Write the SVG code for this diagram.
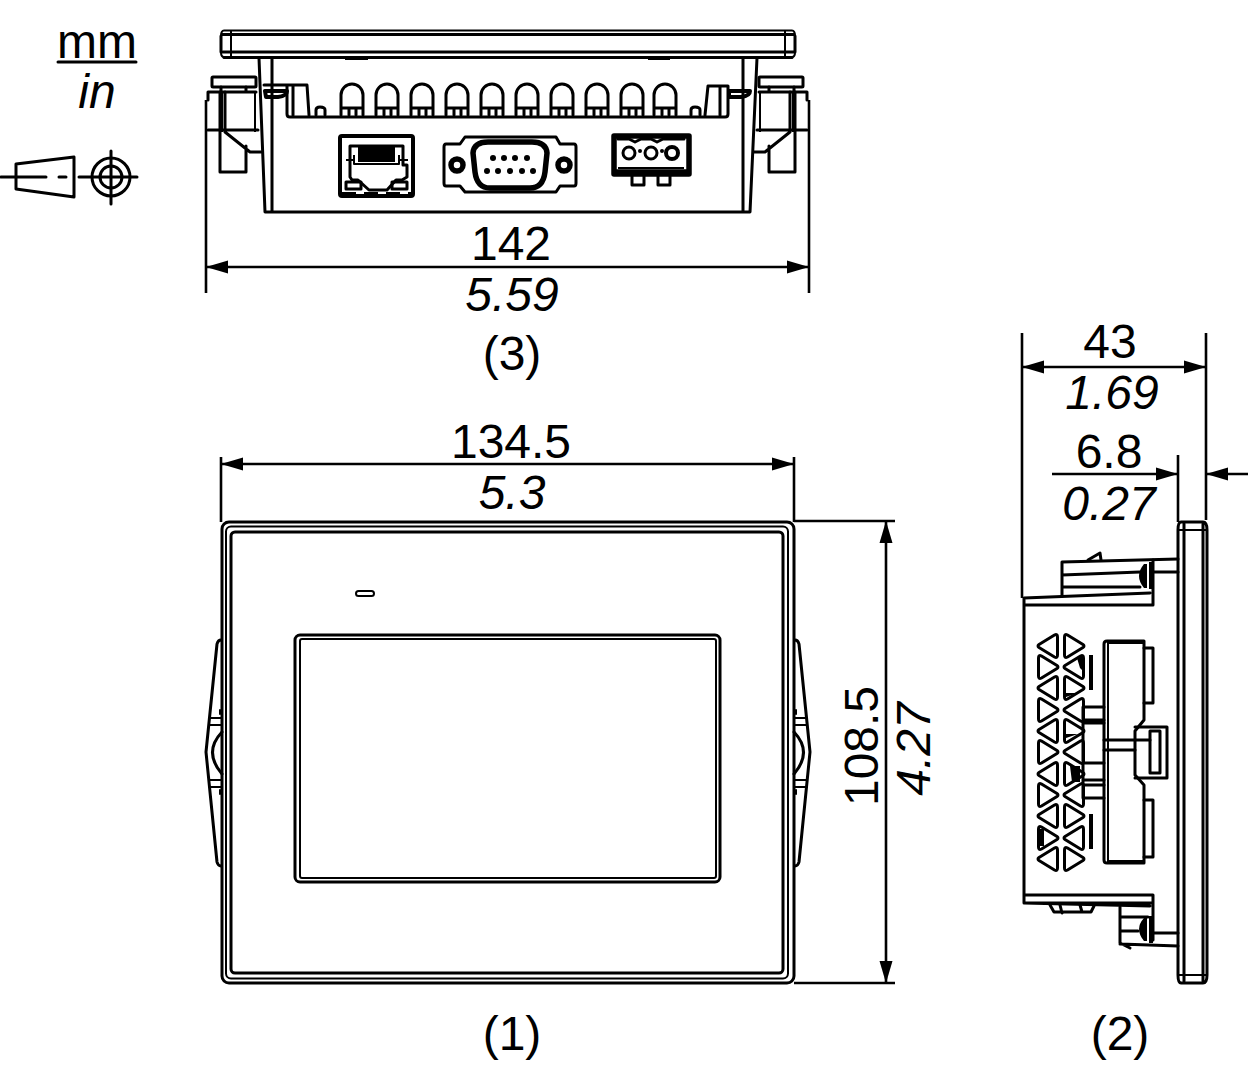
<svg xmlns="http://www.w3.org/2000/svg" width="1248" height="1080" viewBox="0 0 1248 1080">
<style>
.l{fill:none;stroke:#000;stroke-width:3;stroke-linejoin:round;stroke-linecap:round}
.n{fill:none;stroke:#000;stroke-width:2;stroke-linejoin:round}
.h{fill:none;stroke:#000;stroke-width:4;stroke-linejoin:round}
.x{fill:none;stroke:#000;stroke-width:5.500;stroke-linejoin:round}
.f{fill:#000;stroke:none}
.d{fill:none;stroke:#000;stroke-width:2.6}
.t{font-family:"Liberation Sans",Arial,sans-serif;font-size:48px;fill:#000;text-anchor:middle}
.i{font-style:italic}
</style>
<defs>
<marker id="arrow" markerUnits="userSpaceOnUse" markerWidth="24" markerHeight="14" refX="22" refY="7" orient="auto-start-reverse"><path d="M0 0.5L22 7L0 13.5Z" fill="#000"/></marker>
<g id="fin"><path class="l" d="M-11 31V11a11 11 0 0 1 22 0V31M-11 24H11M-3 24V31M4 24V31"/></g>
<path id="tl" class="l" d="M-9 -1.500L6.500 -11Q9.500 -12.500 9.500 -9V9Q9.500 12.500 6.500 11L-9 1.500Q-11 0 -9 -1.500Z"/>
<path id="tr" class="l" d="M9 -1.500L-6.500 -11Q-9.500 -12.500 -9.500 -9V9Q-9.500 12.500 -6.500 11L9 1.500Q11 0 9 -1.500Z"/>
<g id="clip-top">
<rect class="l" x="212" y="77" width="44" height="10" rx="1"/>
<path class="l" d="M221 87V92M246 87V92M208 100V92H256"/>
<path class="l" d="M208 130H258M220 92V172H246V146M225 92V132L250 152H261"/>
<path class="n" d="M255 92V132M222 92V132"/>
</g>
<g id="clip-front">
<path class="l" d="M221 640Q218 640 217 644L206 752L217 862Q218 866 221 866"/>
<path class="x" d="M219 712H221M219 792H221"/>
<path class="n" d="M210 718H222M209 725H222M209 780H222M210 787H222"/>
<path class="l" d="M222 732Q203 752 222 774"/>
</g>
</defs>

<g id="legend">
<text class="t" x="97" y="58">mm</text>
<path class="l" d="M58 62H136"/>
<text class="t i" x="97" y="108">in</text>
<path class="l" d="M16 164L74 157V197L16 189Z"/>
<path class="l" d="M1 177H46M59 177H66M79 177H137M111 151V204"/>
<circle class="l" cx="111" cy="177" r="19"/>
<circle class="l" cx="111" cy="177" r="11"/>
</g>

<g id="view-top">
<path class="n" d="M224 30.500H792Q795 30.500 795 36V52Q795 57 792 57H224Q221 57 221 52V36Q221 30.500 224 30.500Z"/>
<path class="l" d="M222 34.500H794M223 52H794M224 57.500H792M221 36V52M795 36V52"/>
<path class="n" d="M231 31V57M785 31V57"/>
<path class="l" d="M259 58L265 212H750L757 58M272 58V212M743 58V212"/>
<path class="n" d="M345 59H368M648 59H670"/>
<path class="l" d="M264 85H307L309 115M293 85V115M287 85V114Q287 117 290 117H725Q728 117 728 114V86H708L705 115M720 86V115"/>
<path class="l" d="M316 115V110Q316 107 320 107Q325 107 325 110V115M691 115V110Q691 107 695 107Q700 107 700 110V115"/>
<path class="h" d="M265 91H287Q287 96 278 97H266ZM729 91H750Q750 96 741 97H729Z"/>
<use href="#fin" x="352" y="84"/><use href="#fin" x="387" y="84"/><use href="#fin" x="422" y="84"/><use href="#fin" x="457" y="84"/><use href="#fin" x="492" y="84"/><use href="#fin" x="527" y="84"/><use href="#fin" x="562" y="84"/><use href="#fin" x="597" y="84"/><use href="#fin" x="632" y="84"/><use href="#fin" x="665" y="84"/>
<use href="#clip-top"/>
<use href="#clip-top" transform="translate(1015 0) scale(-1 1)"/>
<g id="rj45">
<rect class="h" x="340" y="136" width="73" height="60" rx="2"/>
<path class="l" d="M350 146H403V165H407V177L402 180H396L387 190H369L358 180H352L350 177V146Z"/>
<path class="f" d="M358 147H395V162H358Z"/>
<path class="n" d="M354 155V164H399V155M346 160H354M399 160H408"/>
<rect class="l" x="346" y="182" width="15" height="7"/>
<rect class="l" x="392" y="182" width="15" height="7"/>
<path class="n" d="M342 193H412" stroke-dasharray="14 8"/>
</g>
<g id="db9">
<path class="l" d="M446 144H460L465 137H556L560 144H574Q576 144 576 147V183Q576 186 574 186H560L556 192H465L460 186H446Q444 186 444 183V147Q444 144 446 144Z"/>
<circle class="x" cx="457" cy="165" r="6"/>
<circle class="x" cx="564" cy="165" r="6"/>
<path class="x" d="M488 142H532Q546 142 547 153L545 172Q543 188 530 188H490Q477 188 475 172L473 153Q474 142 488 142Z"/>
<g class="f"><circle cx="493" cy="158" r="3"/><circle cx="504" cy="158" r="3"/><circle cx="515" cy="158" r="3"/><circle cx="527" cy="158" r="3"/><circle cx="487" cy="171" r="3"/><circle cx="498" cy="171" r="3"/><circle cx="510" cy="171" r="3"/><circle cx="522" cy="171" r="3"/><circle cx="533" cy="171" r="3"/></g>
</g>
<g id="terminal">
<path class="x" d="M614 136H689V174H614Z"/>
<path class="l" d="M618 139H629L635 142L641 139H651L657 142L663 139H684"/>
<path class="x" d="M614 172H689"/>
<path class="n" d="M618 168H684"/>
<circle class="l" cx="629" cy="153" r="6"/><circle class="l" cx="651" cy="153" r="6"/><circle class="h" cx="672" cy="153" r="6"/>
<circle class="f" cx="640" cy="151" r="2"/><circle class="f" cx="662" cy="151" r="2"/>
<path class="l" d="M632 176V185H644V176M658 176V185H670V176"/>
</g>
</g>

<g id="view-front">
<rect class="l" x="222" y="522" width="572" height="461" rx="7"/>
<rect class="n" x="226" y="526.500" width="562" height="452" rx="5"/>
<rect class="l" x="231" y="532" width="552" height="441" rx="4"/>
<rect class="l" x="295" y="635" width="425" height="247" rx="5"/>
<rect class="n" x="300" y="639" width="416" height="239" rx="2"/>
<rect class="n" x="356" y="591" width="18" height="5" rx="2.500"/>
<use href="#clip-front"/>
<use href="#clip-front" transform="translate(1016 0) scale(-1 1)"/>
</g>

<g id="view-side">
<path class="l" d="M1178 530V975Q1178 983 1181 983H1203Q1207 983 1207 975V530Q1207 522 1203 522H1181Q1178 522 1178 530ZM1184 524V981M1203 524V981"/>
<path class="n" d="M1178 530H1207M1178 975H1207"/>
<path class="l" d="M1024 598L1150 593M1024 605H1153V560M1024 598V903H1153V895H1024M1153 895V940M1024 903L1150 906"/>
<path class="l" d="M1062 596V562L1178 559M1153 572H1178M1062 575L1140 572M1062 587L1140 587"/>
<path class="l" d="M1088 560L1100 553L1101 560"/>
<path class="f" d="M1144 564H1147V588H1144Q1134 576 1144 564Z"/>
<path class="h" d="M1151 562V589"/>
<path class="l" d="M1120 907V943L1130 948M1120 944L1178 946M1153 933H1178M1120 931H1138M1120 917H1148"/>
<path class="f" d="M1144 918H1147V941H1144Q1134 929 1144 918Z"/>
<path class="h" d="M1151 916V943"/>
<path class="l" d="M1050 905L1054 912H1091L1094 906M1060 905L1062 913M1080 905L1082 912"/>
<use href="#tl" x="1048" y="646"/><use href="#tr" x="1074" y="646"/>
<use href="#tr" x="1048" y="667"/><use href="#tl" x="1074" y="667"/>
<use href="#tl" x="1048" y="688"/><use href="#tr" x="1074" y="688"/>
<use href="#tr" x="1048" y="710"/><use href="#tl" x="1074" y="710"/>
<use href="#tl" x="1048" y="731"/><use href="#tr" x="1074" y="731"/>
<use href="#tr" x="1048" y="752"/><use href="#tl" x="1074" y="752"/>
<use href="#tl" x="1048" y="774"/><use href="#tr" x="1074" y="774"/>
<use href="#tr" x="1048" y="795"/><use href="#tl" x="1074" y="795"/>
<use href="#tl" x="1048" y="816"/><use href="#tr" x="1074" y="816"/>
<use href="#tr" x="1048" y="838"/><use href="#tl" x="1074" y="838"/>
<use href="#tl" x="1048" y="859"/><use href="#tr" x="1074" y="859"/>
<path class="f" d="M1077 658L1084 656V672L1080 668ZM1066 693H1078L1066 697ZM1066 734H1078L1066 738ZM1040 829H1044V846H1040Z"/>
<path class="h" d="M1091 655V690M1091 814V849"/>
<path class="l" d="M1104 644Q1104 641 1107 641H1144V720L1135 731V775L1144 785V863H1107Q1104 863 1104 860Z"/>
<path class="n" d="M1108 641V863"/>
<path class="h" d="M1107 642H1144M1107 862H1144"/>
<path class="l" d="M1144 648H1153V703H1144M1144 800H1153V857H1144"/>
<path class="l" d="M1135 727H1167V778H1135M1150 731V773H1160V731Z"/>
<path class="l" d="M1104 740H1150M1104 750H1135"/>
<path class="l" d="M1083 707H1104M1083 720H1104M1083 723H1104M1083 707V798H1104M1083 763H1104M1083 780H1104M1083 785H1104"/>
<path class="f" d="M1070 766H1080V782H1072Z"/>
</g>

<g id="connectors">
<path class="d" d="M206 100V293M809 100V293"/>
<line class="d" x1="206" y1="267" x2="809" y2="267" marker-start="url(#arrow)" marker-end="url(#arrow)"/>
<path class="d" d="M221 457V522M794 457V522"/>
<line class="d" x1="221" y1="464" x2="794" y2="464" marker-start="url(#arrow)" marker-end="url(#arrow)"/>
<path class="d" d="M794 521H895M794 983H895"/>
<line class="d" x1="886" y1="521" x2="886" y2="983" marker-start="url(#arrow)" marker-end="url(#arrow)"/>
<path class="d" d="M1022 333V598M1206 333V520"/>
<line class="d" x1="1022" y1="367" x2="1206" y2="367" marker-start="url(#arrow)" marker-end="url(#arrow)"/>
<path class="d" d="M1178 455V522"/>
<line class="d" x1="1052" y1="474" x2="1178" y2="474" marker-end="url(#arrow)"/>
<line class="d" x1="1248" y1="474" x2="1206" y2="474" marker-end="url(#arrow)"/>
</g>

<g id="labels">
<text class="t" x="511" y="260">142</text>
<text class="t i" x="512" y="311">5.59</text>
<text class="t" x="512" y="370">(3)</text>
<text class="t" x="511" y="458">134.5</text>
<text class="t i" x="512" y="509">5.3</text>
<text class="t" x="512" y="1050">(1)</text>
<text class="t" x="1120" y="1050">(2)</text>
<text class="t" x="1110" y="358">43</text>
<text class="t i" x="1112" y="409">1.69</text>
<text class="t" x="1109" y="468">6.8</text>
<text class="t i" x="1109" y="520">0.27</text>
<text class="t" transform="translate(878 746) rotate(-90)">108.5</text>
<text class="t i" transform="translate(930 749) rotate(-90)">4.27</text>
</g>
</svg>
